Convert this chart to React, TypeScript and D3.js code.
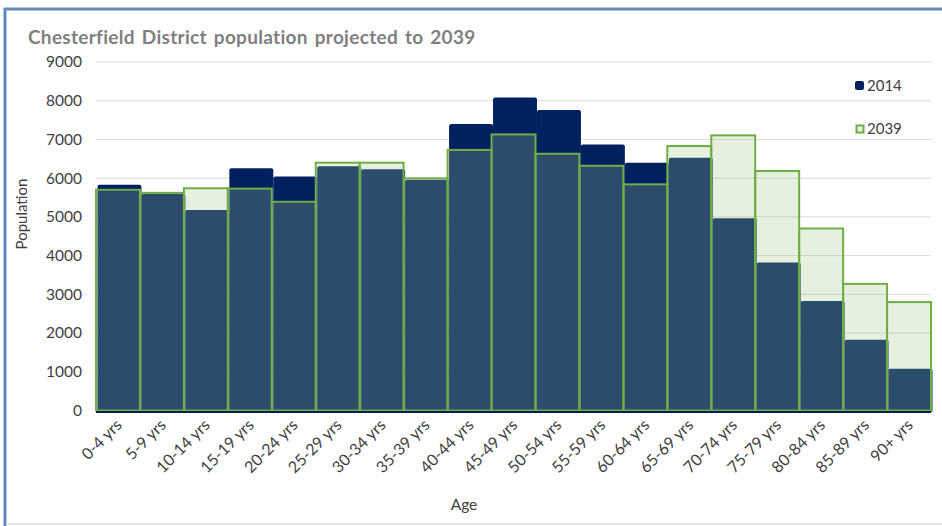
import { useMemo } from 'react';
import * as d3 from 'd3';

// age bands
const ages = ['0-4 yrs', '5-9 yrs', '10-14 yrs', '15-19 yrs', '20-24 yrs', '25-29 yrs', '30-34 yrs',
  '35-39 yrs', '40-44 yrs', '45-49 yrs', '50-54 yrs', '55-59 yrs', '60-64 yrs', '65-69 yrs',
  '70-74 yrs', '75-79 yrs', '80-84 yrs', '85-89 yrs', '90+ yrs'];

const pop2014 = [5830, 5600, 5180, 6255, 6040, 6310, 6230, 5960, 7400, 8085, 7760, 6870, 6400, 6530,
  4965, 3820, 2830, 1830, 1080];

const pop2039 = [5700, 5620, 5740, 5730, 5390, 6400, 6400, 5995, 6730, 7130, 6630, 6320, 5840, 6830,
  7105, 6185, 4700, 3270, 2800];

const yTicks = [0, 1000, 2000, 3000, 4000, 5000, 6000, 7000, 8000, 9000];

const W = 942, H = 526;
const left = 96, right = 931, top = 62, bottom = 410.5;
const font = 'Lato, "Open Sans", sans-serif';
const navy = '#002060';
const green = '#70AD47';
const greenFill = 'rgba(160,200,135,0.27)';

const App = () => {
  const x = useMemo(() => d3.scaleBand<string>().domain(ages).range([left, right]).padding(0), []);
  const y = useMemo(() => d3.scaleLinear().domain([0, 9000]).range([bottom, top]), []);

  return (
    <svg width={W} height={H} style={{ position: 'absolute', left: 0, top: 0, background: '#fff' }}>
      {/* frame */}
      <line x1={5} y1={8} x2={5} y2={526} stroke="#5F88C2" strokeWidth={3} />
      <line x1={4} y1={9} x2={942} y2={9} stroke="#6A8AB8" strokeWidth={3} />
      <line x1={6} y1={524} x2={942} y2={524} stroke="#E2E2E2" strokeWidth={2} />

      <text x={28} y={44} fontFamily={font} fontSize={19} fontWeight="bold" fill="#7F7F7F" letterSpacing={0.3} wordSpacing={2}>
        Chesterfield District population projected to 2039
      </text>

      {/* gridlines + y labels */}
      {yTicks.map(t => (
        <g key={t}>
          {t > 0 && <line x1={left} x2={right} y1={y(t)} y2={y(t)} stroke="#D9D9D9" strokeWidth={1} />}
          <text x={82} y={y(t)} dy="0.35em" textAnchor="end" fontFamily={font} fontSize={15.5} fill="#404040">{t}</text>
        </g>
      ))}

      {/* 2014 */}
      {ages.map((a, i) => (
        <rect key={'a' + a} x={(x(a) ?? 0) + 1.5} y={y(pop2014[i])} width={x.bandwidth()}
          height={bottom - y(pop2014[i]) + 2} rx={2} fill={navy} />
      ))}

      {/* 2039 */}
      {ages.map((a, i) => (
        <rect key={'b' + a} x={x(a) ?? 0} y={y(pop2039[i])} width={x.bandwidth()}
          height={bottom - y(pop2039[i])} fill={greenFill} stroke={green} strokeWidth={2} />
      ))}

      <line x1={left} x2={right} y1={bottom + 1.5} y2={bottom + 1.5} stroke={navy} strokeWidth={2} />

      {/* x labels */}
      {ages.map(a => {
        const cx = (x(a) ?? 0) + x.bandwidth() / 2 + 5;
        return (
          <text key={'l' + a} transform={`translate(${cx},${426}) rotate(-45)`} textAnchor="end"
            fontFamily={font} fontSize={16} fill="#404040">{a}</text>
        );
      })}

      <text x={464} y={510} textAnchor="middle" fontFamily={font} fontSize={15.5} fill="#404040">Age</text>
      <text transform={`translate(27,${214}) rotate(-90)`} textAnchor="middle" fontFamily={font} fontSize={15} fill="#404040">Population</text>

      {/* legend */}
      <rect x={855} y={81} width={9} height={9} rx={2} fill={navy} />
      <text x={867} y={91} fontFamily={font} fontSize={15} fill="#404040">2014</text>
      <rect x={856.5} y={125.5} width={7} height={7} fill="#E6F0DE" stroke={green} strokeWidth={2} />
      <text x={867} y={134} fontFamily={font} fontSize={15} fill="#404040">2039</text>
    </svg>
  );
};

export default App;
